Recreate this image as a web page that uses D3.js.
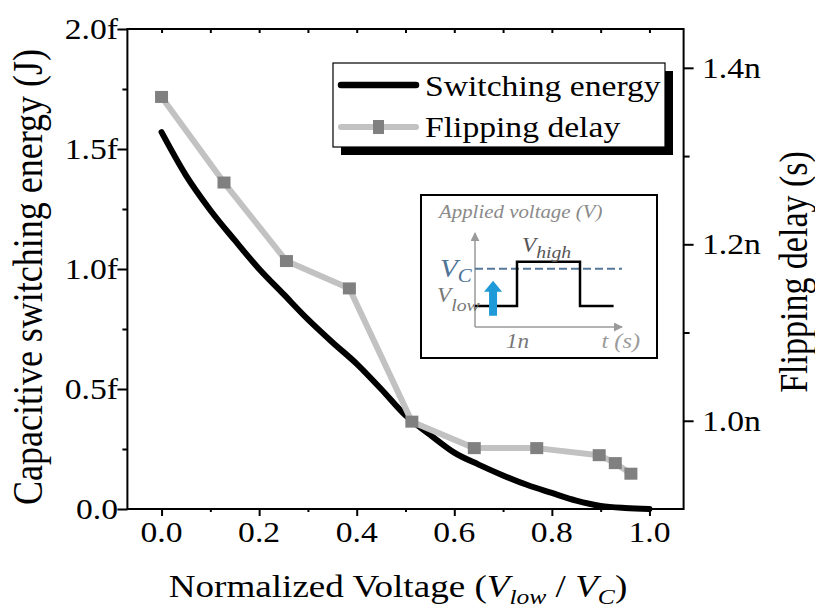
<!DOCTYPE html>
<html>
<head>
<meta charset="utf-8">
<script src="https://cdn.jsdelivr.net/npm/d3@7"></script>
<style>
  html, body { margin: 0; padding: 0; background: #fff; }
  svg { display: block; }
</style>
</head>
<body>
<svg id="chart" width="815" height="609"></svg>
<script>
// ---- data ----
const voltage = [0.00, 0.05, 0.10, 0.15, 0.20, 0.25, 0.30, 0.35, 0.40, 0.45, 0.50,
                 0.55, 0.60, 0.65, 0.70, 0.75, 0.80, 0.85, 0.90, 0.95, 1.00];
const switchingEnergy = [1.57, 1.39, 1.245, 1.12, 1.00, 0.895, 0.79, 0.695, 0.605, 0.50, 0.39,
                         0.31, 0.235, 0.185, 0.14, 0.10, 0.067, 0.035, 0.013, 0.004, 0.0]; // fJ

const delayVoltage = [0.000, 0.128, 0.256, 0.385, 0.513, 0.641, 0.769, 0.897, 0.930, 0.962];
const flippingDelay = [1.367, 1.270, 1.181, 1.150, 0.999, 0.969, 0.969, 0.961, 0.952, 0.940]; // ns

const xTicks = [0, 0.2, 0.4, 0.6, 0.8, 1.0];
const xTickLabels = ["0.0", "0.2", "0.4", "0.6", "0.8", "1.0"];
const xMinorTicks = [0.1, 0.3, 0.5, 0.7, 0.9];
const energyTicks = [0, 0.5, 1.0, 1.5, 2.0];
const energyTickLabels = ["0.0", "0.5f", "1.0f", "1.5f", "2.0f"];
const energyMinorTicks = [0.25, 0.75, 1.25, 1.75];
const delayTicks = [1.0, 1.2, 1.4];
const delayTickLabels = ["1.0n", "1.2n", "1.4n"];
const delayMinorTicks = [1.1, 1.3];

const seriesNames = ["Switching energy", "Flipping delay"];

// ---- layout ----
const FONT = "'Liberation Serif', 'Times New Roman', serif";
const SX = 1.16;              // horizontal glyph stretch of the typeface
const plotL = 127.4, plotR = 683.6, plotT = 29, plotB = 509;

const svg = d3.select("#chart");
const x = d3.scaleLinear().domain([-0.07, 1.07]).range([plotL, plotR]);
const yE = d3.scaleLinear().domain([0, 2]).range([plotB, plotT]);
const yD = d3.scaleLinear().domain([0.9, 1.444]).range([plotB, plotT]);

function stretchedText(g, px, py, str, size, anchor) {
  return g.append("text")
    .attr("transform", `translate(${px},${py}) scale(${SX},1)`)
    .attr("text-anchor", anchor || "start")
    .style("font-family", FONT)
    .style("font-size", size + "px")
    .style("fill", "#000")
    .text(str);
}

// ---- axes (tick marks) ----
function styleAxis(g) {
  g.select(".domain").remove();
  g.selectAll("line").attr("stroke", "#000").attr("stroke-width", 2);
}
svg.append("g").attr("transform", `translate(${plotL},0)`)
  .call(d3.axisLeft(yE).tickValues(energyTicks).tickSize(10).tickSizeOuter(0).tickFormat(""))
  .call(styleAxis);
svg.append("g").attr("transform", `translate(${plotL},0)`)
  .call(d3.axisLeft(yE).tickValues(energyMinorTicks).tickSize(5).tickSizeOuter(0).tickFormat(""))
  .call(styleAxis);
svg.append("g").attr("transform", `translate(${plotR},0)`)
  .call(d3.axisRight(yD).tickValues(delayTicks).tickSize(10).tickSizeOuter(0).tickFormat(""))
  .call(styleAxis);
svg.append("g").attr("transform", `translate(${plotR},0)`)
  .call(d3.axisRight(yD).tickValues(delayMinorTicks).tickSize(6).tickSizeOuter(0).tickFormat(""))
  .call(styleAxis);
svg.append("g").attr("transform", `translate(0,${plotB})`)
  .call(d3.axisBottom(x).tickValues(xTicks).tickSize(7).tickSizeOuter(0).tickFormat(""))
  .call(styleAxis);
svg.append("g").attr("transform", `translate(0,${plotB})`)
  .call(d3.axisBottom(x).tickValues(xMinorTicks).tickSize(3).tickSizeOuter(0).tickFormat(""))
  .call(styleAxis);
svg.append("g").attr("transform", `translate(0,${plotT})`)
  .call(d3.axisBottom(x).tickValues(xTicks.concat(xMinorTicks)).tickSize(4).tickSizeOuter(0).tickFormat(""))
  .call(styleAxis);

// frame
svg.append("rect")
  .attr("x", plotL).attr("y", plotT)
  .attr("width", plotR - plotL).attr("height", plotB - plotT)
  .attr("fill", "none").attr("stroke", "#000").attr("stroke-width", 2);

// ---- tick labels ----
const labels = svg.append("g");
energyTicks.forEach((v, i) => stretchedText(labels, 118, yE(v) + 10, energyTickLabels[i], 29, "end"));
delayTicks.forEach((v, i) => stretchedText(labels, 702, yD(v) + 10, delayTickLabels[i], 29, "start"));
xTicks.forEach((v, i) => stretchedText(labels, x(v), 542, xTickLabels[i], 29, "middle"));

// ---- axis titles ----
const xt = svg.append("text")
  .attr("transform", `translate(398,597) scale(${SX},1)`)
  .attr("text-anchor", "middle")
  .style("font-family", FONT)
  .style("font-size", "32px");
xt.append("tspan").text("Normalized Voltage (");
xt.append("tspan").style("font-style", "italic").text("V");
xt.append("tspan").style("font-style", "italic").style("font-size", "22px").attr("dy", 7).text("low");
xt.append("tspan").attr("dy", -7).text(" / ");
xt.append("tspan").style("font-style", "italic").text("V");
xt.append("tspan").style("font-style", "italic").style("font-size", "22px").attr("dy", 7).text("C");
xt.append("tspan").attr("dy", -7).text(")");

svg.append("text")
  .attr("transform", `translate(42,277) rotate(-90) scale(1,${SX})`)
  .attr("text-anchor", "middle")
  .style("font-family", FONT)
  .style("font-size", "36px")
  .text("Capacitive switching energy (J)");

svg.append("text")
  .attr("transform", `translate(807,272) rotate(-90) scale(1,${SX})`)
  .attr("text-anchor", "middle")
  .style("font-family", FONT)
  .style("font-size", "34px")
  .text("Flipping delay (s)");

// ---- series ----
const energyLine = d3.line()
  .x((d, i) => x(voltage[i]))
  .y(d => yE(d))
  .curve(d3.curveMonotoneX);
svg.append("path")
  .datum(switchingEnergy)
  .attr("d", energyLine)
  .attr("fill", "none").attr("stroke", "#000")
  .attr("stroke-width", 6).attr("stroke-linecap", "round").attr("stroke-linejoin", "round");

const delayLine = d3.line()
  .x((d, i) => x(delayVoltage[i]))
  .y(d => yD(d));
svg.append("path")
  .datum(flippingDelay)
  .attr("d", delayLine)
  .attr("fill", "none").attr("stroke", "#c2c2c2")
  .attr("stroke-width", 6).attr("stroke-linejoin", "round");

svg.append("g").selectAll("rect")
  .data(flippingDelay)
  .join("rect")
  .attr("x", (d, i) => x(delayVoltage[i]) - 6.5)
  .attr("y", d => yD(d) - 6)
  .attr("width", 13).attr("height", 12)
  .attr("fill", "#808080");

// ---- legend ----
const lg = svg.append("g");
lg.append("rect").attr("x", 341).attr("y", 71).attr("width", 332).attr("height", 84).attr("fill", "#000");
lg.append("rect").attr("x", 333).attr("y", 63).attr("width", 332).attr("height", 84)
  .attr("fill", "#fff").attr("stroke", "#000").attr("stroke-width", 1.2);
lg.append("line").attr("x1", 341).attr("x2", 416).attr("y1", 85).attr("y2", 85)
  .attr("stroke", "#000").attr("stroke-width", 6.5).attr("stroke-linecap", "round");
lg.append("line").attr("x1", 341).attr("x2", 416).attr("y1", 127).attr("y2", 127)
  .attr("stroke", "#c2c2c2").attr("stroke-width", 6).attr("stroke-linecap", "round");
lg.append("rect").attr("x", 373).attr("y", 120).attr("width", 11).attr("height", 14).attr("fill", "#808080");
stretchedText(lg, 425, 96, seriesNames[0], 29, "start");
stretchedText(lg, 425, 137, seriesNames[1], 29, "start");

// ---- inset: applied-voltage pulse schematic ----
const inset = svg.append("g");
inset.append("rect").attr("x", 421).attr("y", 195).attr("width", 236).attr("height", 163)
  .attr("fill", "#fff").attr("stroke", "#000").attr("stroke-width", 2);

const pulseT = [0, 1, 1, 2.5, 2.5, 3.3];
const pulseV = [0.3, 0.3, 0.93, 0.93, 0.3, 0.3];
const vCritical = 0.83;
const ts = d3.scaleLinear().domain([0, 3.5]).range([475, 622]);
const vs = d3.scaleLinear().domain([0, 1.34]).range([327, 233]);

const defs = svg.append("defs");
defs.append("marker").attr("id", "ah").attr("viewBox", "0 0 10 10")
  .attr("refX", 9).attr("refY", 5).attr("markerWidth", 9).attr("markerHeight", 9)
  .attr("orient", "auto").attr("markerUnits", "userSpaceOnUse")
  .append("path").attr("d", "M0,0 L10,5 L0,10 Z").attr("fill", "#9a9a9a");

inset.append("line").attr("x1", ts(0)).attr("y1", vs(0)).attr("x2", ts(0)).attr("y2", vs(1.34))
  .attr("stroke", "#9a9a9a").attr("stroke-width", 1.5).attr("marker-end", "url(#ah)");
inset.append("line").attr("x1", ts(0)).attr("y1", vs(0)).attr("x2", ts(3.5)).attr("y2", vs(0))
  .attr("stroke", "#9a9a9a").attr("stroke-width", 1.5).attr("marker-end", "url(#ah)");

inset.append("line").attr("x1", ts(0)).attr("x2", ts(3.5)).attr("y1", vs(vCritical)).attr("y2", vs(vCritical))
  .attr("stroke", "#55779a").attr("stroke-width", 2).attr("stroke-dasharray", "8,4");

inset.append("path")
  .datum(pulseV)
  .attr("d", d3.line().x((d, i) => ts(pulseT[i])).y(d => vs(d)))
  .attr("fill", "none").attr("stroke", "#000").attr("stroke-width", 2.5);

// blue up-arrow
const ax = ts(0.43), ay0 = vs(0.16), ay1 = vs(0.66);
inset.append("path")
  .attr("d", `M${ax - 4},${ay0} L${ax - 4},${ay1 + 11} L${ax - 9},${ay1 + 11} L${ax},${ay1} L${ax + 9},${ay1 + 11} L${ax + 4},${ay1 + 11} L${ax + 4},${ay0} Z`)
  .attr("fill", "#1e9ad8");

function insetText(px, py, parts, color, anchor) {
  const t = inset.append("text")
    .attr("transform", `translate(${px},${py}) scale(${SX},1)`)
    .attr("text-anchor", anchor || "start")
    .style("font-family", FONT)
    .style("font-style", "italic").style("fill", color);
  parts.forEach(p => {
    const s = t.append("tspan").style("font-size", p.size + "px").text(p.text);
    if (p.dy) s.attr("dy", p.dy);
  });
  return t;
}
insetText(439, 218, [{ text: "Applied voltage (V)", size: 18 }], "#8a8a8a");
insetText(440, 277, [{ text: "V", size: 25 }, { text: "C", size: 18, dy: 5 }], "#4d7396");
insetText(522, 252, [{ text: "V", size: 20 }, { text: "high", size: 17, dy: 6 }], "#555");
insetText(437, 302, [{ text: "V", size: 20 }, { text: "low", size: 17, dy: 9 }], "#777");
insetText(506, 348, [{ text: "1n", size: 20 }], "#777");
insetText(640, 348, [{ text: "t (s)", size: 21 }], "#9a9a9a", "end");
</script>
</body>
</html>
